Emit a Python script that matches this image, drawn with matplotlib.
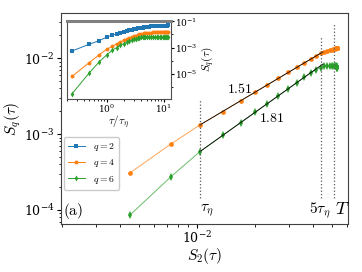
import numpy as np
import matplotlib
matplotlib.use('Agg')
import matplotlib.pyplot as plt
from matplotlib.ticker import LogLocator, NullFormatter

plt.rcParams['mathtext.fontset'] = 'cm'
plt.rcParams['font.family'] = 'serif'
plt.rcParams['font.serif'] = ['DejaVu Serif']

#-------------------------------
# main panel: S_q vs S_2 (tau = 0.5 ... 12 tau_eta)
#-------------------------------
s2_main = [4.50e-3, 7.31e-3, 1.036e-2, 1.359e-2, 1.684e-2, 2.004e-2, 2.318e-2, 2.643e-2,
           2.978e-2, 3.297e-2, 3.605e-2, 3.896e-2, 4.160e-2, 4.39e-2, 4.58e-2, 4.74e-2,
           4.89e-2, 5.00e-2, 5.09e-2, 5.19e-2, 5.25e-2, 5.29e-2, 5.31e-2, 5.32e-2,
           5.33e-2, 5.34e-2, 5.34e-2, 5.33e-2, 5.33e-2, 5.32e-2, 5.32e-2, 5.31e-2, 5.30e-2]
s4_main = [3.08e-4, 7.36e-4, 1.318e-3, 1.98e-3, 2.75e-3, 3.57e-3, 4.45e-3, 5.43e-3,
           6.50e-3, 7.59e-3, 8.69e-3, 9.75e-3, 1.076e-2, 1.169e-2, 1.22e-2, 1.25e-2,
           1.28e-2, 1.30e-2, 1.32e-2, 1.34e-2, 1.35e-2, 1.36e-2, 1.37e-2, 1.37e-2,
           1.38e-2, 1.38e-2, 1.38e-2, 1.38e-2, 1.38e-2, 1.37e-2, 1.37e-2, 1.37e-2, 1.36e-2]
s6_main = [8.58e-5, 2.72e-4, 5.87e-4, 9.58e-4, 1.415e-3, 1.94e-3, 2.52e-3, 3.19e-3,
           3.95e-3, 4.75e-3, 5.60e-3, 6.43e-3, 7.09e-3, 7.53e-3, 7.78e-3, 7.90e-3,
           7.95e-3, 7.95e-3, 7.92e-3, 7.88e-3, 7.85e-3, 7.80e-3, 7.76e-3, 7.72e-3,
           7.68e-3, 7.65e-3, 7.62e-3, 7.60e-3, 7.57e-3, 7.55e-3, 7.52e-3, 7.50e-3, 7.45e-3]

# fitted exponents in the inertial range
slope_4 = 1.51
slope_6 = 1.81

# S_2 at tau_eta, 5 tau_eta and T
s2_marks = [1.036e-2, 4.38e-2, 5.15e-2]
mark_labels = [r'$\tau_\eta$', r'$5\tau_\eta$', r'$T$']

#-------------------------------
# inset: S_q vs tau/tau_eta
#-------------------------------
tau_in = [0.25, 0.5, 0.75, 1.0, 1.25, 1.5, 1.75, 2.0, 2.25, 2.5, 2.75, 3.0, 3.25, 3.5,
          3.75, 4.0, 4.25, 4.5, 4.75, 5.0, 5.5, 6.0, 6.5, 7.0, 7.5, 8.0, 8.5, 9.0,
          9.5, 10.0, 10.5, 11.0, 11.5, 12.0]
s2_in = [5.5e-4, 1.82e-3, 3.39e-3, 6.31e-3, 8.71e-3, 1.12e-2, 1.38e-2, 1.62e-2, 1.86e-2,
         2.09e-2, 2.29e-2, 2.51e-2, 2.69e-2, 2.88e-2, 3.02e-2, 3.16e-2, 3.31e-2, 3.47e-2,
         3.55e-2, 3.72e-2, 3.89e-2, 4.07e-2, 4.17e-2, 4.27e-2, 4.37e-2, 4.47e-2, 4.52e-2,
         4.57e-2, 4.62e-2, 4.68e-2, 4.73e-2, 4.79e-2, 4.79e-2, 4.84e-2]
s4_in = [6.5e-6, 7.2e-5, 2.95e-4, 7.2e-4, 1.23e-3, 1.95e-3, 2.69e-3, 3.55e-3, 4.47e-3,
         5.37e-3, 6.31e-3, 7.24e-3, 8.13e-3, 9.12e-3, 1.0e-2, 1.07e-2, 1.15e-2, 1.20e-2,
         1.26e-2, 1.29e-2, 1.35e-2, 1.38e-2, 1.41e-2, 1.43e-2, 1.45e-2, 1.45e-2, 1.46e-2,
         1.46e-2, 1.46e-2, 1.46e-2, 1.45e-2, 1.45e-2, 1.45e-2, 1.43e-2]
s6_in = [3.1e-7, 1.2e-5, 8.5e-5, 2.7e-4, 6.2e-4, 1.0e-3, 1.48e-3, 2.0e-3, 2.51e-3,
         3.09e-3, 3.63e-3, 4.17e-3, 4.68e-3, 5.13e-3, 5.5e-3, 5.89e-3, 6.17e-3, 6.46e-3,
         6.61e-3, 6.76e-3, 6.92e-3, 6.92e-3, 6.92e-3, 6.84e-3, 6.76e-3, 6.76e-3, 6.68e-3,
         6.61e-3, 6.53e-3, 6.46e-3, 6.46e-3, 6.38e-3, 6.31e-3, 6.17e-3]

c2, c4, c6 = '#1f77b4', '#ff7f0e', '#2ca02c'
line_kw = dict(lw=0.7)

fig = plt.figure(figsize=(3.62, 2.72), dpi=100)
ax = fig.add_axes([0.168, 0.176, 0.793, 0.775])

ax.plot(s2_main, s4_main, '-', color=c4, alpha=0.7, **line_kw)
ax.plot(s2_main, s4_main, 'o', color=c4, ms=3.4, mew=0)
ax.plot(s2_main, s6_main, '-', color=c6, alpha=0.7, **line_kw)
ax.plot(s2_main, s6_main, 'd', color=c6, ms=3.9, mew=0)

# power law fits through the tau_eta point
x_fit = np.array([s2_marks[0], 4.5e-2])
ax.plot(x_fit, s4_main[2] * (x_fit / s2_main[2]) ** slope_4, 'k-', lw=0.6)
ax.plot(x_fit, s6_main[2] * (x_fit / s2_main[2]) ** slope_6, 'k-', lw=0.6)

# dotted markers for tau_eta, 5 tau_eta, T
mark_tops = [2.87e-3, 1.94e-2, 2.93e-2]
for xm, yt in zip(s2_marks, mark_tops):
    ax.plot([xm, xm], [1.43e-4, yt], ':', color='0.35', lw=0.9)

ax.text(1.04e-2, 9.6e-5, mark_labels[0], fontsize=11, ha='left', va='center')
ax.text(4.92e-2, 9.6e-5, mark_labels[1], fontsize=11, ha='right', va='center')
ax.text(5.18e-2, 1.02e-4, mark_labels[2], fontsize=13, ha='left', va='center')
ax.text(1.67e-2, 3.9e-3, r'$%.2f$' % slope_4, fontsize=10, ha='center', va='center')
ax.text(2.44e-2, 1.63e-3, r'$%.2f$' % slope_6, fontsize=10, ha='center', va='center')
ax.text(0.008, 0.06, r'$\mathrm{(a)}$', fontsize=11, transform=ax.transAxes,
        ha='left', va='center')

ax.set_xscale('log')
ax.set_yscale('log')
ax.set_xlim(1.97e-3, 6.06e-2)
ax.set_ylim(6.5e-5, 3.9e-2)
ax.set_xlabel(r'$S_2(\tau)$', fontsize=11, labelpad=0)
ax.set_ylabel(r'$S_q(\tau)$', fontsize=11, labelpad=1)
ax.tick_params(labelsize=9, pad=1.5, length=3)
ax.tick_params(which='minor', length=1.8)
for sp in ax.spines.values():
    sp.set_color('0.25')

#-------------------------------
# inset
#-------------------------------
axi = fig.add_axes([0.184, 0.637, 0.287, 0.287])
h2, = axi.plot(tau_in, s2_in, '-s', color=c2, lw=0.7, ms=2.6, mew=0, label=r'$q = 2$')
h4, = axi.plot(tau_in, s4_in, '-o', color=c4, lw=0.7, ms=2.8, mew=0, label=r'$q = 4$')
h6, = axi.plot(tau_in, s6_in, '-d', color=c6, lw=0.7, ms=3.0, mew=0, label=r'$q = 6$')
axi.set_xscale('log')
axi.set_yscale('log')
axi.set_xlim(0.2, 13.1)
axi.set_ylim(1.26e-7, 1.12e-1)
axi.yaxis.tick_right()
axi.yaxis.set_label_position('right')
axi.set_yticks([1e-1, 1e-3, 1e-5])
axi.yaxis.set_minor_locator(LogLocator(base=10, subs=(1.0,), numticks=20))
axi.yaxis.set_minor_formatter(NullFormatter())
axi.set_xlabel(r'$\tau/\tau_\eta$', fontsize=8, labelpad=-1)
axi.set_ylabel(r'$S_q(\tau)$', fontsize=8, labelpad=1)
axi.tick_params(labelsize=6.5, length=2.5, pad=1)
axi.tick_params(axis='x', pad=0.5)
axi.tick_params(which='minor', length=1.5)
for sp in axi.spines.values():
    sp.set_color('0.3')
axi.spines['top'].set_linewidth(2.2)
axi.spines['top'].set_color('0.5')

ax.legend(handles=[h2, h4, h6], loc='lower left', bbox_to_anchor=(0.0, 0.15),
          fontsize=7, handlelength=1.8, borderaxespad=0.3, labelspacing=0.45,
          borderpad=0.4, edgecolor='0.75')

fig.savefig('out.png', dpi=100)
